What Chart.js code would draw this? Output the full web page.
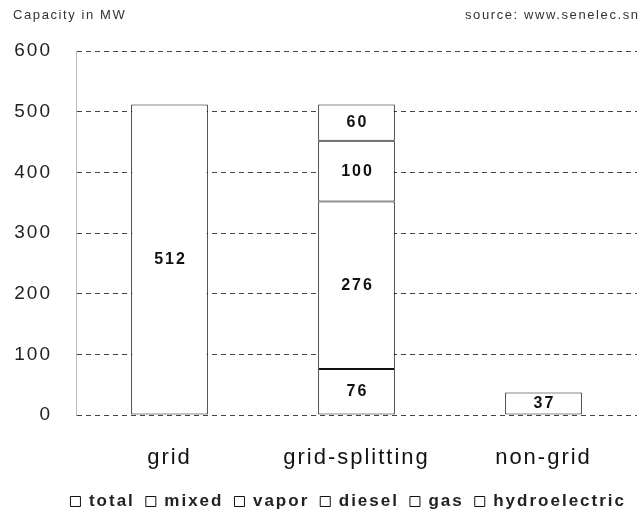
<!DOCTYPE html>
<html>
<head>
<meta charset="utf-8">
<script src="https://cdn.jsdelivr.net/npm/chart.js@4/dist/chart.umd.min.js"></script>
<style>
  html, body { margin: 0; padding: 0; background: #fff; }
  #wrap { position: relative; width: 639px; height: 518px; }
</style>
</head>
<body>
<div id="wrap"><canvas id="capacity-chart"></canvas></div>
<script>
// categories and values (MW)
const categories = ['grid', 'grid-splitting', 'non-grid'];
const seriesNames = ['total', 'mixed', 'vapor', 'diesel', 'gas', 'hydroelectric'];
const total = [512, null, null];
const mixed = [null, 76, null];
const vapor = [null, 276, null];
const diesel = [null, null, 37];
const gas = [null, 100, null];
const hydroelectric = [null, 60, null];
const yTicks = [0, 100, 200, 300, 400, 500, 600];

const axisTitle = 'Capacity in MW';
const sourceNote = 'source: www.senelec.sn';

const seriesData = [total, mixed, vapor, diesel, gas, hydroelectric];

// the original print has widely spaced letters, so space all canvas text a bit
const letterSpacing = {
  id: 'letterSpacing',
  beforeLayout(chart) { chart.ctx.letterSpacing = '2px'; },
  beforeDraw(chart) { chart.ctx.letterSpacing = '2px'; }
};

// Value labels in the middle of each bar segment, plus the two header notes
const valueLabels = {
  id: 'valueLabels',
  afterDatasetsDraw(chart) {
    const ctx = chart.ctx;
    ctx.save();
    ctx.font = 'bold 16px "Liberation Sans", Arial, sans-serif';
    ctx.letterSpacing = '2px';
    ctx.fillStyle = '#111';
    ctx.textAlign = 'center';
    ctx.textBaseline = 'middle';
    chart.data.datasets.forEach((ds, i) => {
      const meta = chart.getDatasetMeta(i);
      meta.data.forEach((bar, j) => {
        const v = ds.data[j];
        if (v === null || v === undefined) return;
        ctx.fillText(String(v), bar.x + 1, (bar.y + bar.base) / 2);
      });
    });
    ctx.restore();
  },
  afterDraw(chart) {
    const ctx = chart.ctx;
    ctx.save();
    ctx.font = '13px "Liberation Sans", Arial, sans-serif';
    ctx.letterSpacing = '1.6px';
    ctx.fillStyle = '#333';
    ctx.textBaseline = 'middle';
    ctx.textAlign = 'left';
    ctx.fillText(axisTitle, 13, 15);
    ctx.fillText(sourceNote, 465, 15);
    ctx.restore();
  }
};

const datasets = seriesNames.map((name, i) => ({
  label: name,
  data: seriesData[i],
  backgroundColor: '#ffffff',
  borderColor: '#111111',
  borderWidth: 1,
  borderSkipped: false,
  barPercentage: 0.41,
  categoryPercentage: 1.0
}));

const ctx = document.getElementById('capacity-chart').getContext('2d');
window.capacityChart = new Chart(ctx, {
  type: 'bar',
  data: { labels: categories, datasets: datasets },
  options: {
    responsive: true,
    maintainAspectRatio: false,
    animation: false,
    layout: { padding: { top: 51, right: 2, bottom: -2, left: 0 } },
    plugins: {
      legend: {
        position: 'bottom',
        align: 'end',
        labels: {
          boxWidth: 10,
          boxHeight: 10,
          padding: 11,
          color: '#222',
          font: { family: '"Liberation Sans", Arial, sans-serif', size: 17, weight: 'bold' }
        }
      },
      tooltip: { enabled: false }
    },
    scales: {
      x: {
        stacked: true,
        grid: { display: false },
        border: { display: false },
        ticks: {
          color: '#111',
          padding: 22,
          font: { family: '"Liberation Sans", Arial, sans-serif', size: 22 }
        },
        afterFit(scale) { scale.height = 67; }
      },
      y: {
        stacked: true,
        min: 0,
        max: 600,
        afterBuildTicks(scale) { scale.ticks = yTicks.map(v => ({ value: v })); },
        grid: { color: '#444', lineWidth: 1, drawTicks: false },
        border: { display: true, color: '#bbb', dash: [5, 4] },
        ticks: {
          color: '#222',
          padding: 24,
          font: { family: '"Liberation Sans", Arial, sans-serif', size: 19 }
        },
        afterFit(scale) { scale.width = 76; }
      }
    }
  },
  plugins: [letterSpacing, valueLabels]
});
</script>
</body>
</html>
